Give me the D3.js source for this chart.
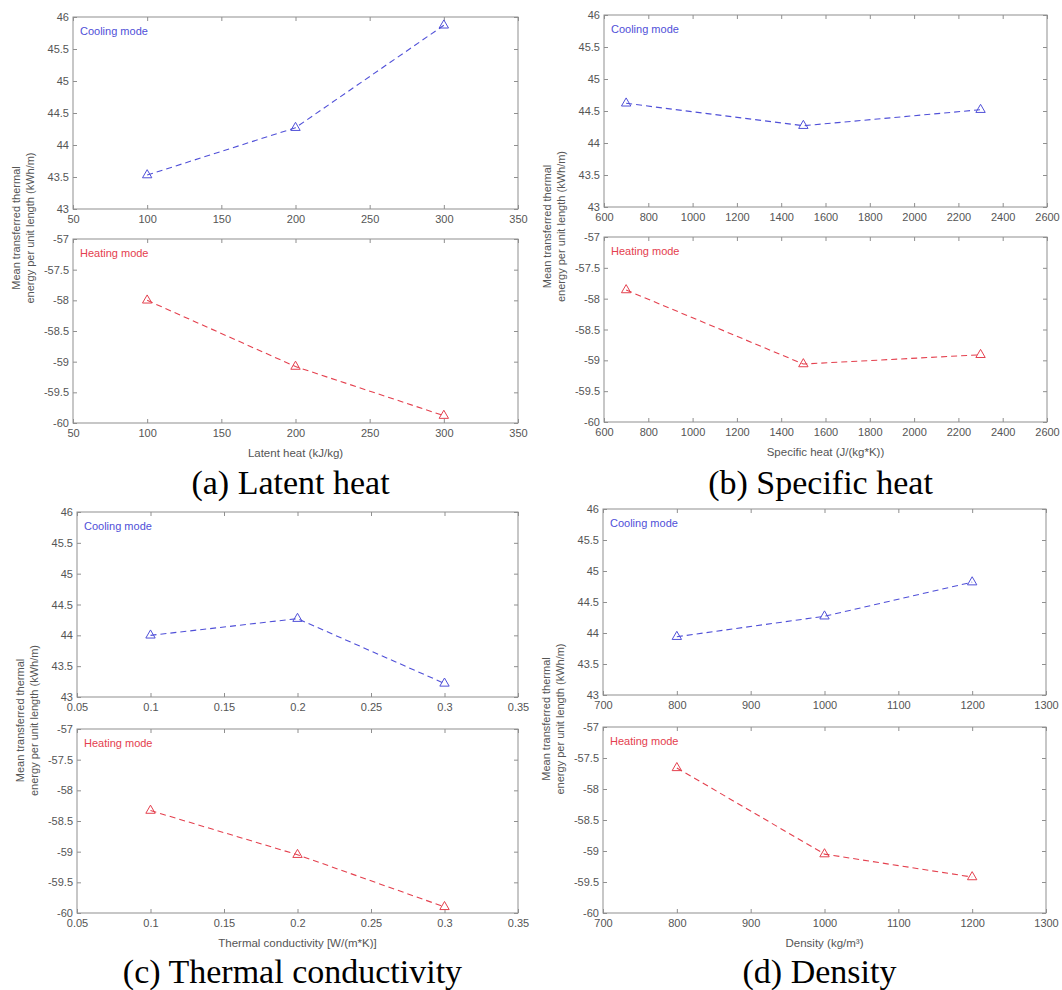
<!DOCTYPE html>
<html>
<head>
<meta charset="utf-8">
<script src="https://cdn.jsdelivr.net/npm/d3@7/dist/d3.min.js"></script>
<style>
  body { margin: 0; background: #fff; }
  svg { display: block; }
</style>
</head>
<body>
<div id="chart"></div>
<script>
// values
var latentX = [100, 200, 300];
var latentCool = [43.53, 44.27, 45.87];
var latentHeat = [-58.0, -59.08, -59.88];

var specX = [700, 1500, 2300];
var specCool = [44.62, 44.27, 44.52];
var specHeat = [-57.86, -59.06, -58.91];

var condX = [0.1, 0.2, 0.3];
var condCool = [44.0, 44.27, 43.22];
var condHeat = [-58.33, -59.05, -59.9];

var densX = [800, 1000, 1200];
var densCool = [43.94, 44.27, 44.82];
var densHeat = [-57.66, -59.05, -59.42];

// tick labels
var latentTicks = [50, 100, 150, 200, 250, 300, 350];
var specTicks = [600, 800, 1000, 1200, 1400, 1600, 1800, 2000, 2200, 2400, 2600];
var condTicks = [0.05, 0.1, 0.15, 0.2, 0.25, 0.3, 0.35];
var densTicks = [700, 800, 900, 1000, 1100, 1200, 1300];
var coolTicks = [43, 43.5, 44, 44.5, 45, 45.5, 46];
var heatTicks = [-60, -59.5, -59, -58.5, -58, -57.5, -57];

var xLabels = ["Latent heat (kJ/kg)", "Specific heat (J/(kg*K))", "Thermal conductivity [W/(m*K)]", "Density (kg/m\u00b3)"];
var captions = ["(a) Latent heat", "(b) Specific heat", "(c) Thermal conductivity", "(d) Density"];
var modeNames = ["Cooling mode", "Heating mode"];

var blue = "#5050d8";
var red = "#e4404e";
var frameColor = "#8f8f8f";
var textColor = "#555";

var svg = d3.select("#chart").append("svg")
    .attr("width", 1062)
    .attr("height", 990)
    .style("font-family", "Arial, 'Liberation Sans', sans-serif");

// one block = two stacked axes sharing an x quantity
function drawBlock(b){
  var x = d3.scaleLinear()
      .domain([b.xTicks[0], b.xTicks[b.xTicks.length - 1]])
      .range([b.left, b.right]);

  var subs = [
    {top: b.top1, bottom: b.bot1, ticks: coolTicks, ys: b.cool, color: blue, name: modeNames[0]},
    {top: b.top2, bottom: b.bot2, ticks: heatTicks, ys: b.heat, color: red, name: modeNames[1]}
  ];

  subs.forEach(function(s){
    var y = d3.scaleLinear()
        .domain([s.ticks[0], s.ticks[s.ticks.length - 1]])
        .range([s.bottom, s.top]);

    var g = svg.append("g");

    // frame
    g.append("rect")
      .attr("x", b.left)
      .attr("y", s.top)
      .attr("width", b.right - b.left)
      .attr("height", s.bottom - s.top)
      .style("fill", "none")
      .style("stroke", frameColor)
      .style("stroke-width", 1);

    // bottom axis with labels
    g.append("g")
      .attr("transform", "translate(0," + s.bottom + ")")
      .call(d3.axisBottom(x).tickValues(b.xTicks).tickSizeInner(-4).tickSizeOuter(0).tickPadding(6)
        .tickFormat(function(d){ return String(d); }));
    // top axis, ticks only
    g.append("g")
      .attr("transform", "translate(0," + s.top + ")")
      .call(d3.axisTop(x).tickValues(b.xTicks).tickSizeInner(-4).tickSizeOuter(0).tickFormat(""));
    // left axis with labels
    g.append("g")
      .attr("transform", "translate(" + b.left + ",0)")
      .call(d3.axisLeft(y).tickValues(s.ticks).tickSizeInner(-4).tickSizeOuter(0).tickPadding(4)
        .tickFormat(function(d){ return String(d); }));
    // right axis, ticks only
    g.append("g")
      .attr("transform", "translate(" + b.right + ",0)")
      .call(d3.axisRight(y).tickValues(s.ticks).tickSizeInner(-4).tickSizeOuter(0).tickFormat(""));

    g.selectAll(".domain").remove();
    g.selectAll(".tick line").style("stroke", frameColor);
    g.selectAll(".tick text")
      .style("font-size", "11px")
      .style("fill", textColor)
      .style("font-family", "Arial, 'Liberation Sans', sans-serif");

    // mode label
    g.append("text")
      .attr("x", b.left + 7)
      .attr("y", s.top + 18)
      .style("font-size", "11px")
      .style("fill", s.color)
      .text(s.name);

    var pts = b.xs.map(function(d, i){ return [d, s.ys[i]]; });

    var line = d3.line()
      .x(function(d){ return x(d[0]); })
      .y(function(d){ return y(d[1]); });

    g.append("path")
      .datum(pts)
      .attr("d", line)
      .style("fill", "none")
      .style("stroke", s.color)
      .style("stroke-width", 1.1)
      .style("stroke-dasharray", "6,4");

    g.selectAll(".marker")
      .data(pts)
      .enter().append("path")
      .attr("class", "marker")
      .attr("transform", function(d){ return "translate(" + x(d[0]) + "," + y(d[1]) + ")"; })
      .attr("d", d3.symbol().type(d3.symbolTriangle).size(38))
      .style("fill", "none")
      .style("stroke", s.color)
      .style("stroke-width", 1);
  });

  // x axis title
  svg.append("text")
    .attr("x", (b.left + b.right) / 2)
    .attr("y", b.bot2 + 34)
    .style("font-size", "11.5px")
    .style("fill", textColor)
    .style("text-anchor", "middle")
    .text(b.xLabel);

  // shared y axis title
  var yl = svg.append("text")
    .attr("transform", "translate(" + (b.left - 51) + "," + ((b.top1 + b.bot2) / 2 + 8) + ") rotate(-90)")
    .style("font-size", "11px")
    .style("fill", textColor)
    .style("text-anchor", "middle");
  yl.append("tspan").attr("x", 0).attr("dy", "-0.2em").text("Mean transferred thermal");
  yl.append("tspan").attr("x", 0).attr("dy", "1.25em").text("energy per unit length (kWh/m)");

  // caption
  svg.append("text")
    .attr("x", (b.left + b.right) / 2 - 5)
    .attr("y", b.capY)
    .style("font-family", "'Liberation Serif', 'Times New Roman', serif")
    .style("font-size", "34px")
    .style("fill", "#000")
    .style("text-anchor", "middle")
    .text(b.caption);
}

var blocks = [
  {xs: latentX, cool: latentCool, heat: latentHeat, xTicks: latentTicks, xLabel: xLabels[0], caption: captions[0],
   left: 73, right: 518, top1: 17, bot1: 209, top2: 239, bot2: 423, capY: 494},
  {xs: specX, cool: specCool, heat: specHeat, xTicks: specTicks, xLabel: xLabels[1], caption: captions[1],
   left: 604, right: 1047, top1: 15, bot1: 207, top2: 237, bot2: 422, capY: 494},
  {xs: condX, cool: condCool, heat: condHeat, xTicks: condTicks, xLabel: xLabels[2], caption: captions[2],
   left: 77, right: 518, top1: 512, bot1: 697, top2: 729, bot2: 913, capY: 983},
  {xs: densX, cool: densCool, heat: densHeat, xTicks: densTicks, xLabel: xLabels[3], caption: captions[3],
   left: 603, right: 1046, top1: 509, bot1: 695, top2: 727, bot2: 913, capY: 983}
];

blocks.forEach(drawBlock);
</script>
</body>
</html>
